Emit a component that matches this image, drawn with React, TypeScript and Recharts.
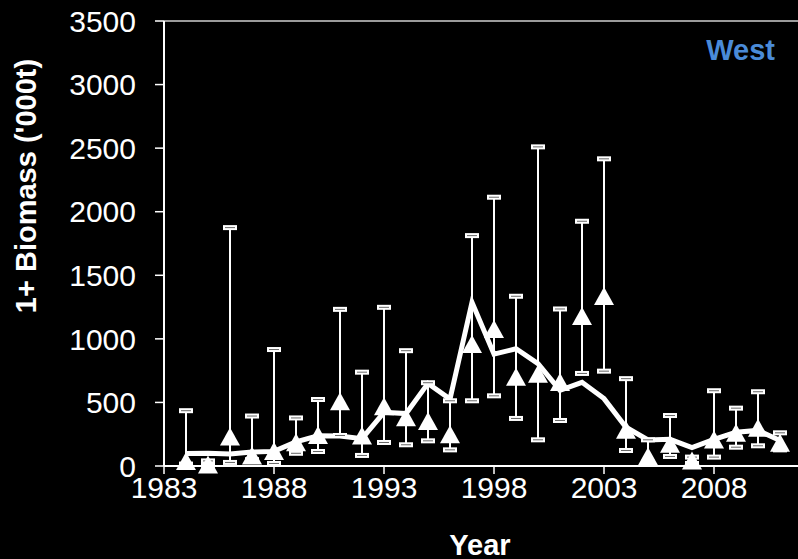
import { ComposedChart, Line, Scatter, ErrorBar, XAxis, YAxis, ReferenceLine } from 'recharts';

const years = [1984, 1985, 1986, 1987, 1988, 1989, 1990, 1991, 1992, 1993, 1994, 1995, 1996, 1997, 1998, 1999, 2000, 2001, 2002, 2003, 2004, 2005, 2006, 2007, 2008, 2009, 2010, 2011];
const estimate = [40, 12, 232, 83, 117, 187, 243, 510, 240, 470, 384, 353, 250, 959, 1077, 702, 726, 660, 1180, 1337, 285, 77, 175, 43, 208, 261, 300, 183];
const upper = [435, 40, 1875, 393, 916, 378, 523, 1232, 738, 1248, 907, 655, 513, 1812, 2114, 1335, 2510, 1235, 1925, 2416, 687, 206, 397, 70, 592, 455, 584, 261];
const lower = [15, 5, 28, 50, 20, 100, 114, 240, 83, 185, 167, 198, 127, 513, 552, 374, 206, 358, 728, 746, 122, 30, 75, 20, 70, 148, 159, 127];
const model = [98, 100, 95, 110, 115, 190, 238, 235, 215, 422, 412, 650, 526, 1288, 880, 922, 805, 595, 658, 530, 305, 205, 210, 145, 210, 265, 280, 200];

const xTicks = [1983, 1988, 1993, 1998, 2003, 2008];
const yTicks = [0, 500, 1000, 1500, 2000, 2500, 3000, 3500];

const data = years.map((year, i) => ({
  year,
  est: estimate[i],
  hi: upper[i],
  lo: lower[i],
  model: model[i],
  err: [estimate[i] - lower[i], upper[i] - estimate[i]],
}));

const FONT = '"Liberation Sans", Arial, sans-serif';

const Triangle = (props: any) => {
  const { cx, cy } = props;
  if (!Number.isFinite(cx) || !Number.isFinite(cy)) return null;
  return <polygon points={`${cx - 10},${cy + 9} ${cx + 10},${cy + 9} ${cx},${cy - 9}`} fill="#fff" />;
};

const Cap = (props: any) => {
  const { cx, cy } = props;
  if (!Number.isFinite(cx) || !Number.isFinite(cy)) return null;
  return (
    <g>
      <rect x={cx - 7} y={cy - 2.5} width={14} height={5} fill="#fff" />
      <rect x={cx - 5} y={cy - 0.5} width={10} height={1} fill="#666" />
    </g>
  );
};

export default function App() {
  return (
    <div style={{ position: 'absolute', left: 0, top: 0, width: 798, height: 559, overflow: 'hidden', background: '#000' }}>
      <ComposedChart width={802} height={559} data={data} margin={{ top: 21, right: 0, bottom: 0, left: 0 }}>
        <XAxis
          dataKey="year"
          type="number"
          domain={[1983, 2012]}
          ticks={xTicks}
          allowDataOverflow
          height={93}
          axisLine={{ stroke: '#fff', strokeWidth: 2 }}
          tickLine={{ stroke: '#fff', strokeWidth: 1.5 }}
          tickSize={8}
          tickMargin={3}
          tick={{ fill: '#fff', fontSize: 30, fontFamily: FONT }}
          label={{
            content: () => (
              <text x={480} y={555} textAnchor="middle" fill="#fff" fontSize={29} fontWeight="bold" fontFamily={FONT}>
                Year
              </text>
            ),
          }}
        />
        <YAxis
          type="number"
          domain={[0, 3500]}
          ticks={yTicks}
          width={164}
          axisLine={{ stroke: '#fff', strokeWidth: 2 }}
          tickLine={{ stroke: '#fff', strokeWidth: 1.5 }}
          tickSize={9}
          tickMargin={19}
          tick={{ fill: '#fff', fontSize: 30, fontFamily: FONT }}
          label={{
            content: () => (
              <text
                x={36}
                y={186}
                transform="rotate(-90 36 186)"
                textAnchor="middle"
                fill="#fff"
                fontSize={29}
                fontWeight="bold"
                fontFamily={FONT}
              >
                1+ Biomass ('000t)
              </text>
            ),
          }}
        />
        <ReferenceLine y={3500} stroke="#cfcfcf" strokeWidth={1.5} />
        <Line dataKey="model" type="linear" stroke="#fff" strokeWidth={5} dot={false} isAnimationActive={false} />
        <Scatter dataKey="hi" shape={Cap} isAnimationActive={false} />
        <Scatter dataKey="lo" shape={Cap} isAnimationActive={false} />
        <Scatter dataKey="est" shape={Triangle} isAnimationActive={false}>
          <ErrorBar dataKey="err" direction="y" width={0} stroke="#fff" strokeWidth={2} isAnimationActive={false} />
        </Scatter>
        <text x={775} y={60} textAnchor="end" fill="#4a8bd8" fontSize={29} fontWeight="bold" fontFamily={FONT}>
          West
        </text>
      </ComposedChart>
    </div>
  );
}
